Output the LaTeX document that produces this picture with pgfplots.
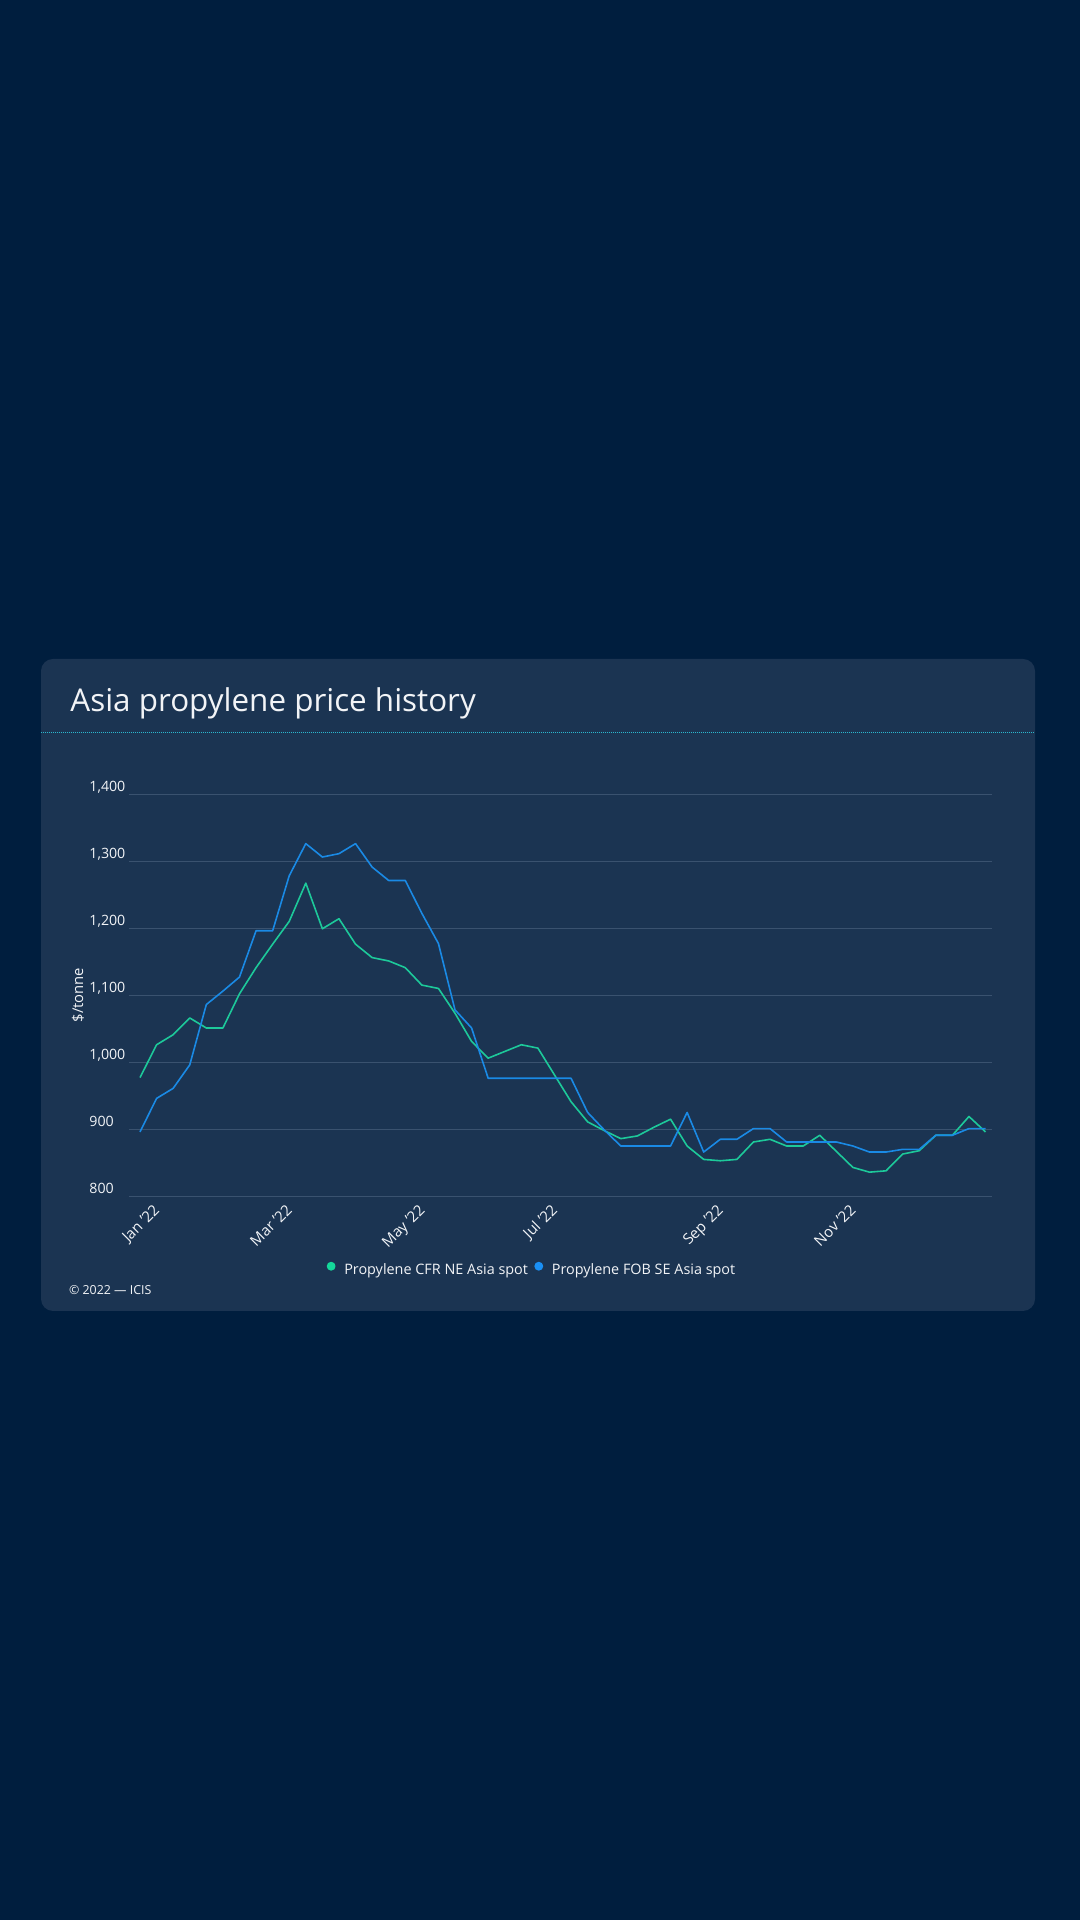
\documentclass[border=0pt]{standalone}
\usepackage{fontspec}
\setmainfont{Open Sans}
\usepackage{pgfplots}
\usepackage{pgfplotstable}
\pgfplotsset{compat=1.18}
\definecolor{bgc}{HTML}{001E3E}
\definecolor{panelc}{HTML}{1B3452}
\definecolor{gridc}{HTML}{3A526F}
\definecolor{dotc}{HTML}{2BB8CF}
\definecolor{greenline}{HTML}{1DC99A}
\definecolor{blueline}{HTML}{1A8AE5}
\definecolor{greendot}{HTML}{14D89A}
\definecolor{bluedot}{HTML}{1A90F5}
\definecolor{txt}{HTML}{F2F4F7}

\pgfplotstableread{
x y
0 977
1 1026
2 1041
3 1066
4 1051
5 1051
6 1102
7 1141
8 1176
9 1210
10 1267
11 1199
12 1214
13 1176
14 1156
15 1151
16 1141
17 1115
18 1110
19 1073
20 1031
21 1006
22 1016
23 1026
24 1021
25 981
26 941
27 911
28 898
29 886
30 890
31 903
32 915
33 875
34 855
35 853
36 855
37 881
38 885
39 875
40 875
41 891
42 867
43 843
44 836
45 838
46 863
47 868
48 891
49 891
50 919
51 896
}\cfrdata

\pgfplotstableread{
x y
0 896
1 946
2 961
3 996
4 1086
5 1106
6 1127
7 1196
8 1196
9 1278
10 1326
11 1306
12 1311
13 1326
14 1291
15 1271
16 1271
17 1222
18 1177
19 1078
20 1051
21 976
22 976
23 976
24 976
25 976
26 976
27 925
28 899
29 875
30 875
31 875
32 875
33 925
34 866
35 885
36 885
37 901
38 901
39 881
40 881
41 881
42 881
43 875
44 866
45 866
46 870
47 870
48 891
49 891
50 901
51 901
}\fobdata

\begin{document}
\begin{tikzpicture}
\useasboundingbox (0,0) rectangle (540pt,960pt);
\fill[bgc] (0,0) rectangle (540pt,960pt);
\fill[panelc, rounded corners=6pt] (20.5pt,304.5pt) rectangle (517.5pt,630.5pt);
\node[anchor=base west, inner sep=0pt, text=txt, font=\fontsize{15.7}{18}\selectfont] at (35pt,604.15pt) {Asia propylene price history};
\draw[dotc, line width=0.6pt, dash pattern=on 0.5pt off 0.5pt] (20.5pt,593.85pt) -- (517.5pt,593.85pt);
\begin{axis}[
  at={(64.5pt,361.85pt)}, anchor=south west,
  scale only axis, width=431.5pt, height=201.15pt,
  xmin=-0.664, xmax=51.39, ymin=800, ymax=1400,
  axis line style={draw=none},
  ytick={800,900,1000,1100,1200,1300,1400},
  xtick={1,9,17,25,35,43},
  xticklabels={Jan '22, Mar '22, May '22, Jul '22, Sep '22, Nov '22},
  major tick length=0pt,
  ymajorgrids, major grid style={gridc, line width=0.5pt},
  /pgf/number format/assume math mode=true,
  /pgf/number format/1000 sep={,},
  yticklabel style={anchor=base west, inner sep=0pt, xshift=-20pt, yshift=1.5pt, font=\fontsize{7.1}{8}\selectfont, text=txt},
  xticklabel style={anchor=base east, inner sep=0pt, xshift=2pt, yshift=-7.2pt, rotate=45, font=\fontsize{7.5}{8}\selectfont, text=txt},
  legend style={at={(0.4658,-0.183)}, anchor=center, draw=none, fill=none, text=txt,
    font=\fontsize{7.2}{8}\selectfont, nodes={inner sep=0pt},
    /tikz/every odd column/.append style={column sep=4.35pt},
    /tikz/every even column/.append style={column sep=3.2pt}},
  legend columns=2,
  legend cell align=left,
]
\addplot[greenline, line width=0.8pt, line join=round,
  legend image code/.code={\fill[greendot] (0pt,2.4pt) circle (1.8pt);}] table[x=x,y=y] {\cfrdata};
\addlegendentry{Propylene CFR NE Asia spot}
\addplot[blueline, line width=0.8pt, line join=round,
  legend image code/.code={\fill[bluedot] (0pt,2.4pt) circle (1.8pt);}] table[x=x,y=y] {\fobdata};
\addlegendentry{Propylene FOB SE Asia spot}
\end{axis}
\node[rotate=90, inner sep=0pt, text=txt, font=\fontsize{7.4}{8}\selectfont] at (39pt,462.5pt) {\$/tonne};
\node[anchor=base west, inner sep=0pt, text=txt, font=\fontsize{6.2}{7}\selectfont] at (34.35pt,312.5pt) {© 2022 — ICIS};
\end{tikzpicture}
\end{document}
